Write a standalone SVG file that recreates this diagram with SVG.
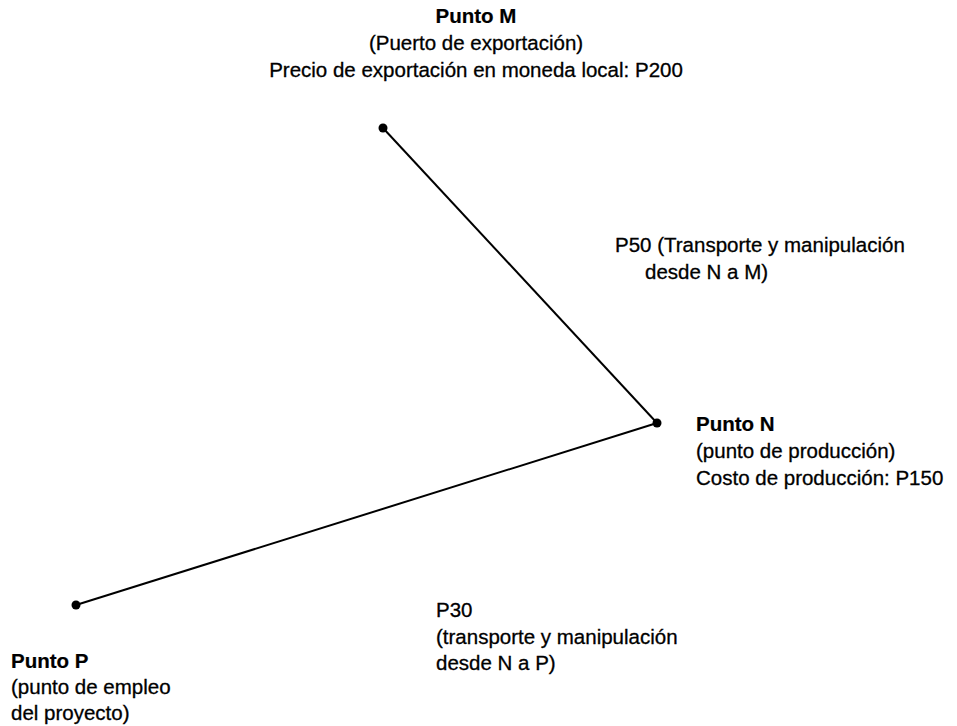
<svg xmlns="http://www.w3.org/2000/svg" width="957" height="726" viewBox="0 0 957 726">
<style>
text { font-family: "Liberation Sans", Arial, sans-serif; font-size: 20.5px; fill: #000; stroke: #000; stroke-width: 0.3px; }
.b { font-weight: bold; stroke-width: 0.2px; }
.c { text-anchor: middle; }
.edge { stroke: #000; stroke-width: 2; fill: none; }
.dot { fill: #000; }
</style>
<rect width="957" height="726" fill="#fff"/>
<g id="connectors">
<line class="edge" x1="383" y1="128" x2="657" y2="423"/>
<line class="edge" x1="657" y1="423" x2="76" y2="605"/>
</g>
<g id="punto-m">
<circle class="dot" cx="383" cy="128" r="4.5"/>
<text class="b c" x="476" y="23">Punto M</text>
<text class="c" x="476" y="50">(Puerto de exportación)</text>
<text class="c" x="476" y="77">Precio de exportación en moneda local: P200</text>
</g>
<g id="punto-n">
<circle class="dot" cx="657" cy="423" r="4.5"/>
<text class="b" x="696" y="431">Punto N</text>
<text x="696" y="458">(punto de producción)</text>
<text x="696" y="485">Costo de producción: P150</text>
</g>
<g id="punto-p">
<circle class="dot" cx="76" cy="605" r="4.5"/>
<text class="b" x="11" y="668">Punto P</text>
<text x="11" y="694">(punto de empleo</text>
<text x="11" y="720">del proyecto)</text>
</g>
<g id="label-nm">
<text x="615" y="252">P50 (Transporte y manipulación</text>
<text x="645" y="279">desde N a M)</text>
</g>
<g id="label-np">
<text x="436" y="617">P30</text>
<text x="436" y="644">(transporte y manipulación</text>
<text x="436" y="670">desde N a P)</text>
</g>
</svg>
